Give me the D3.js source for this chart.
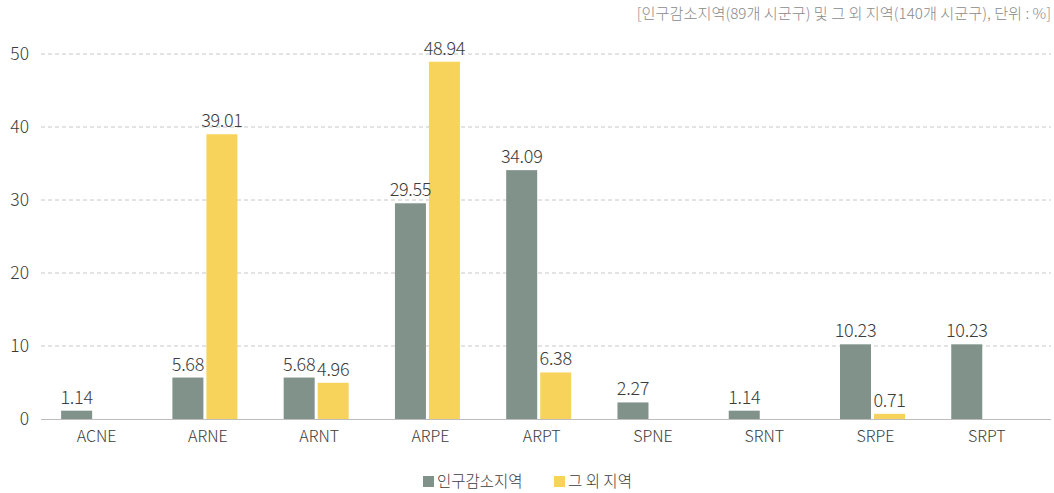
<!DOCTYPE html>
<html>
<head>
<meta charset="utf-8">
<script src="https://cdn.jsdelivr.net/npm/d3@7"></script>
<style>
html,body{margin:0;padding:0;background:#fff;}
svg{display:block;font-family:"Noto Sans CJK KR","Noto Sans",sans-serif;font-weight:300;}
</style>
</head>
<body>
<svg id="chart" width="1054" height="493"></svg>
<script>
const categories = ["ACNE","ARNE","ARNT","ARPE","ARPT","SPNE","SRNT","SRPE","SRPT"];
const seriesNames = ["인구감소지역","그 외 지역"];
const declining = [1.14, 5.68, 5.68, 29.55, 34.09, 2.27, 1.14, 10.23, 10.23];
const others = [null, 39.01, 4.96, 48.94, 6.38, null, null, 0.71, null];
const yTicks = [0, 10, 20, 30, 40, 50];
const colors = ["#80928a", "#f7d35c"];
const note = "[인구감소지역(89개 시군구) 및 그 외 지역(140개 시군구), 단위 : %]";

const svg = d3.select("#chart");
const plotLeft = 41, plotRight = 1051;
const x0 = d3.scaleBand().domain(categories).range([38, 1039.4]).paddingInner(0).paddingOuter(0);
const x1 = d3.scaleBand().domain([0,1]).range([-32.5, 32.5]).paddingInner(0.088).paddingOuter(0);
const y = d3.scaleLinear().domain([0, 50]).range([419, 54]);
const textColor = "#3c3c3c";

// title note
svg.append("text").attr("x", 1051).attr("y", 19).attr("text-anchor","end")
  .attr("font-size", 15.2).attr("fill", "#8a8a8a").text(note);

// gridlines
svg.append("g").selectAll("line").data(yTicks.filter(d => d > 0)).join("line")
  .attr("x1", plotLeft).attr("x2", plotRight)
  .attr("y1", d => y(d)).attr("y2", d => y(d))
  .attr("stroke", "#c8c8c8").attr("stroke-width", 1).attr("stroke-dasharray", "4,3");

// y tick labels
svg.append("g").selectAll("text").data(yTicks).join("text")
  .attr("x", 29).attr("y", d => y(d)).attr("dy", "0.36em").attr("text-anchor","end")
  .attr("font-size", 17.5).attr("fill", textColor).text(d => d);

// bars
const rows = categories.map((c, i) => ({c, vals: [declining[i], others[i]]}));
const groups = svg.append("g").selectAll("g").data(rows).join("g")
  .attr("transform", d => `translate(${x0(d.c) + x0.bandwidth()/2},0)`);

groups.selectAll("rect").data(d => d.vals.map((v, k) => ({v, k})).filter(e => e.v != null)).join("rect")
  .attr("x", e => x1(e.k)).attr("width", x1.bandwidth())
  .attr("y", e => y(e.v)).attr("height", e => y(0) - y(e.v))
  .attr("fill", e => colors[e.k]);

groups.selectAll("text.val").data(d => d.vals.map((v, k) => ({v, k})).filter(e => e.v != null)).join("text")
  .attr("class","val")
  .attr("x", e => x1(e.k) + x1.bandwidth()/2).attr("y", e => y(e.v) - 7)
  .attr("text-anchor","middle").attr("font-size", 18).attr("fill", textColor)
  .attr("letter-spacing", "-0.3")
  .text(e => e.v.toFixed(2));

// x axis line
svg.append("line").attr("x1", plotLeft).attr("x2", plotRight)
  .attr("y1", y(0) + 0.5).attr("y2", y(0) + 0.5)
  .attr("stroke", "#bdbdbd").attr("stroke-width", 1);

// category labels
svg.append("g").selectAll("text").data(categories).join("text")
  .attr("x", d => x0(d) + x0.bandwidth()/2 + 3).attr("y", 442)
  .attr("text-anchor","middle").attr("font-size", 16).attr("fill", textColor).text(d => d);

// legend
const legendX = [423, 554];
const leg = svg.append("g").selectAll("g").data(seriesNames).join("g")
  .attr("transform", (d, i) => `translate(${legendX[i]},476)`);
leg.append("rect").attr("width", 11).attr("height", 11).attr("fill", (d, i) => colors[i]);
leg.append("text").attr("x", 14).attr("y", 5.5).attr("dy","0.36em")
  .attr("font-size", 15.5).attr("fill", textColor).text(d => d);
</script>
</body>
</html>
